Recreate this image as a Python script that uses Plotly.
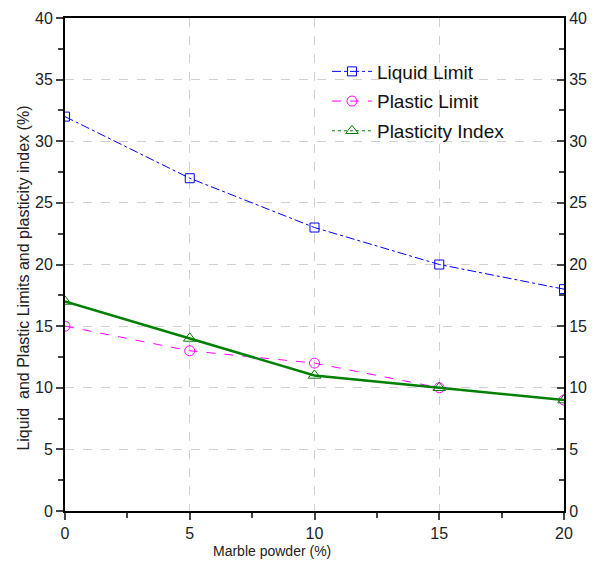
import plotly.graph_objects as go

marble = [0, 5, 10, 15, 20]
liquid_limit = [32, 27, 23, 20, 18]
plastic_limit = [15, 13, 12, 10, 9]
plasticity_index = [17, 14, 11, 10, 9]
y_ticks = [0, 5, 10, 15, 20, 25, 30, 35, 40]

FONT = "Liberation Sans Narrow, Arial Narrow, Liberation Sans, Arial"

fig = go.Figure()
fig.add_trace(go.Scatter(x=marble, y=liquid_limit, mode="lines+markers", name="Liquid Limit",
                         legendgroup="a",
                         line=dict(color="#0000ff", width=1, dash="dashdot"),
                         marker=dict(symbol="square-open", size=9, color="#0000ff", line=dict(width=1))))
fig.add_trace(go.Scatter(x=marble, y=plastic_limit, mode="lines+markers", name="Plastic Limit",
                         legendgroup="b",
                         line=dict(color="#ff00ff", width=1, dash="dash"),
                         marker=dict(symbol="circle-open", size=10, color="#ff00ff", line=dict(width=1))))
fig.add_trace(go.Scatter(x=marble, y=plasticity_index, mode="lines+markers", name="Plasticity Index",
                         showlegend=False, legendgroup="c",
                         line=dict(color="#008000", width=2.5),
                         marker=dict(symbol="triangle-up-open", size=11, color="#008000", line=dict(width=1))))
fig.add_trace(go.Scatter(x=[None], y=[None], mode="lines+markers", name="Plasticity Index",
                         legendgroup="c",
                         line=dict(color="#008000", width=1, dash="dot"),
                         marker=dict(symbol="triangle-up-open", size=11, color="#008000", line=dict(width=1))))
# invisible trace for right axis
fig.add_trace(go.Scatter(x=[None], y=[None], yaxis="y2", showlegend=False, hoverinfo="skip"))

fig.update_layout(
    width=607, height=565,
    margin=dict(l=57, r=51, t=10, b=62),
    paper_bgcolor="white", plot_bgcolor="white",
    font=dict(family=FONT, size=16, color="#222"),
    showlegend=True,
    legend=dict(x=0.525, y=0.93, xanchor="left", yanchor="top", bgcolor="rgba(0,0,0,0)",
                font=dict(size=19, family=FONT, color="#111"), tracegroupgap=2,
                traceorder="grouped", itemwidth=40),
    xaxis=dict(range=[0, 20], tickvals=[0, 5, 10, 15, 20], ticks="outside", ticklen=7, tickwidth=2,
               showline=True, linewidth=2, linecolor="black", mirror=True, automargin=False,
               showgrid=True, gridcolor="#d0d0d0", griddash="dash", gridwidth=1,
               minor=dict(ticks="outside", ticklen=5, tickwidth=2, dtick=2.5, showgrid=False),
               zeroline=False),
    yaxis=dict(range=[0, 40], tickvals=y_ticks, ticks="outside", ticklen=7, tickwidth=2,
               showline=True, linewidth=2, linecolor="black", automargin=False,
               showgrid=True, gridcolor="#d0d0d0", griddash="dash", gridwidth=1,
               minor=dict(ticks="outside", ticklen=5, tickwidth=2, dtick=2.5, showgrid=False),
               zeroline=False),
    yaxis2=dict(range=[0, 40], tickvals=y_ticks, overlaying="y", side="right", automargin=False,
                ticks="inside", ticklen=7, tickwidth=2, showline=True, linewidth=2, linecolor="black",
                showgrid=False, zeroline=False,
                minor=dict(ticks="inside", ticklen=5, tickwidth=2, dtick=2.5)),
    annotations=[
        dict(text="Marble powder (%)", xref="paper", yref="paper", x=(271 - 64) / 499, y=-0.06,
             xanchor="center", yanchor="top", showarrow=False, font=dict(size=14, family=FONT, color="#222")),
        dict(text="Liquid  and Plastic Limits and plasticity index (%)", xref="paper", yref="paper",
             x=-0.085, y=(510 - 277) / 493, xanchor="center", yanchor="middle", textangle=-90,
             showarrow=False, font=dict(size=16, family=FONT, color="#222")),
    ],
)

fig.write_html("out.html")
